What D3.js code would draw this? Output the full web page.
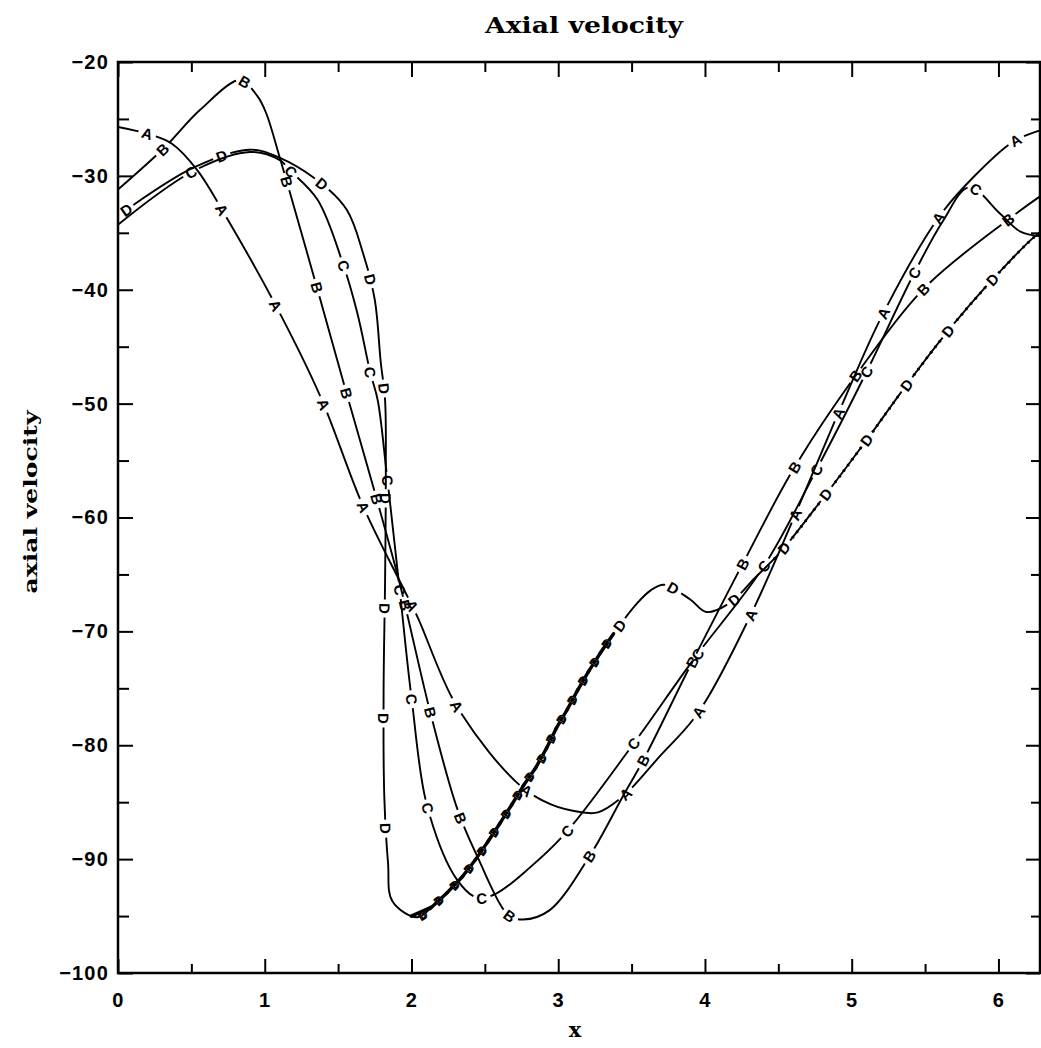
<!DOCTYPE html>
<html>
<head>
<meta charset="utf-8">
<script src="https://cdn.jsdelivr.net/npm/d3@7"></script>
<style>
  html, body { margin: 0; padding: 0; background: #fff; }
  svg { display: block; }
</style>
</head>
<body>
<svg id="chart" width="1041" height="1048"></svg>
<script>
// Axial velocity along x for four cases, A to D.
const seriesNames = ["A", "B", "C", "D"];

const xA = [0, 0.2, 0.37, 0.54, 0.71, 1.08, 1.38, 1.67, 1.94, 2.04, 2.31, 2.72, 2.95, 3.17, 3.27, 3.44, 3.69, 3.95, 4.31, 4.91, 5.21, 5.59, 5.83, 6.1, 6.283];
const yA = [-25.7, -26.3, -27.2, -29.5, -33.0, -41.5, -49.4, -59.0, -66.1, -68.7, -76.6, -83.3, -85.2, -85.9, -85.9, -84.5, -81.0, -77.2, -68.6, -50.8, -42.2, -33.7, -30.1, -27.0, -26.0];

const xB = [0, 0.31, 0.56, 0.83, 0.95, 1.01, 1.1, 1.15, 1.36, 1.56, 1.77, 1.92, 2.13, 2.31, 2.45, 2.66, 2.76, 2.94, 3.22, 3.44, 3.58, 3.92, 4.26, 4.61, 5.04, 5.5, 6.08, 6.283];
const yB = [-31.2, -27.6, -24.2, -21.6, -23.0, -24.5, -28.3, -30.5, -40.0, -49.2, -58.7, -65.8, -77.2, -85.5, -89.8, -94.9, -95.3, -94.5, -89.6, -84.5, -81.3, -72.5, -64.0, -55.6, -47.3, -39.8, -33.7, -31.8];

const xC = [0, 0.51, 0.9, 1.1, 1.17, 1.36, 1.53, 1.63, 1.72, 1.77, 1.83, 1.92, 2.0, 2.11, 2.31, 2.45, 2.58, 2.81, 3.05, 3.5, 3.92, 4.4, 4.76, 5.09, 5.42, 5.62, 5.8, 6.01, 6.15, 6.283];
const yC = [-34.3, -29.6, -27.9, -28.6, -29.5, -32.1, -37.6, -42.0, -47.3, -49.7, -56.0, -66.4, -75.8, -85.5, -91.8, -93.4, -93.0, -90.7, -87.7, -80.1, -72.5, -64.3, -55.8, -47.5, -38.7, -34.0, -31.0, -33.3, -34.9, -35.3];

const xD = [0, 0.51, 0.9, 1.1, 1.38, 1.56, 1.67, 1.75, 1.79, 1.82, 1.825, 1.82, 1.81, 1.815, 1.84, 1.87, 2.04, 2.17, 2.33, 2.45, 2.56, 2.67, 2.76, 2.88, 2.97, 3.06, 3.17, 3.35, 3.54, 3.63, 3.72, 3.9, 4.01, 4.17, 4.34, 4.51, 4.81, 5.09, 5.36, 5.62, 5.91, 6.24, 6.283];
const yD = [-33.5, -29.3, -27.7, -28.4, -30.6, -33.0, -36.8, -40.9, -46.3, -49.7, -56.0, -65.6, -75.1, -84.6, -90.3, -93.7, -95.1, -93.8, -91.8, -89.8, -87.7, -85.5, -83.6, -81.3, -78.9, -76.9, -74.3, -70.7, -67.5, -66.4, -65.9, -67.2, -68.3, -67.5, -65.3, -63.1, -58.2, -53.4, -48.6, -44.2, -39.8, -35.4, -35.0];

const seriesX = { A: xA, B: xB, C: xC, D: xD };
const seriesY = { A: yA, B: yB, C: yC, D: yD };

const xMajorTicks = [0, 1, 2, 3, 4, 5, 6];
const xMinorTicks = [0.5, 1.5, 2.5, 3.5, 4.5, 5.5];
const yMajorTicks = [-100, -90, -80, -70, -60, -50, -40, -30, -20];
const yMinorTicks = [-95, -85, -75, -65, -55, -45, -35, -25];

const titleText = "Axial velocity";
const xLabelText = "x";
const yLabelText = "axial velocity";

// ---- layout ----
const W = 1041, H = 1048;
const plot = { left: 118, right: 1040, top: 62, bottom: 973 };

const svg = d3.select("#chart");
svg.append("rect").attr("width", W).attr("height", H).attr("fill", "#fff");

const x = d3.scaleLinear().domain([0, 2 * Math.PI]).range([plot.left, plot.right]);
const y = d3.scaleLinear().domain([-100, -20]).range([plot.bottom, plot.top]);

const tickFont = "'Liberation Sans', Arial, sans-serif";
const serifFont = "'DejaVu Serif', 'Liberation Serif', serif";

// ---- axes: ticks point inward on all four sides ----
function styleAxis(g) {
  g.select(".domain").remove();
  g.selectAll(".tick line").attr("stroke", "#000").attr("stroke-width", 2);
  g.selectAll(".tick text")
    .attr("fill", "#000")
    .attr("font-family", tickFont)
    .attr("font-weight", "bold")
    .attr("font-size", 20)
    .attr("letter-spacing", "1.2px");
}
const fmt = d3.format("d");

svg.append("g").attr("transform", `translate(0,${plot.bottom})`)
  .call(d3.axisBottom(x).tickValues(xMajorTicks).tickFormat(fmt).tickSizeInner(-14).tickSizeOuter(0).tickPadding(20))
  .call(styleAxis);
svg.append("g").attr("transform", `translate(0,${plot.bottom})`)
  .call(d3.axisBottom(x).tickValues(xMinorTicks).tickFormat("").tickSizeInner(-9).tickSizeOuter(0))
  .call(styleAxis);
svg.append("g").attr("transform", `translate(0,${plot.top})`)
  .call(d3.axisTop(x).tickValues(xMajorTicks).tickFormat("").tickSizeInner(-15).tickSizeOuter(0))
  .call(styleAxis);
svg.append("g").attr("transform", `translate(0,${plot.top})`)
  .call(d3.axisTop(x).tickValues(xMinorTicks).tickFormat("").tickSizeInner(-10).tickSizeOuter(0))
  .call(styleAxis);

svg.append("g").attr("transform", `translate(${plot.left},0)`)
  .call(d3.axisLeft(y).tickValues(yMajorTicks).tickFormat(fmt).tickSizeInner(-15).tickSizeOuter(0).tickPadding(9))
  .call(styleAxis);
svg.append("g").attr("transform", `translate(${plot.left},0)`)
  .call(d3.axisLeft(y).tickValues(yMinorTicks).tickFormat("").tickSizeInner(-11).tickSizeOuter(0))
  .call(styleAxis);
svg.append("g").attr("transform", `translate(${plot.right},0)`)
  .call(d3.axisRight(y).tickValues(yMajorTicks).tickFormat("").tickSizeInner(-14).tickSizeOuter(0))
  .call(styleAxis);
svg.append("g").attr("transform", `translate(${plot.right},0)`)
  .call(d3.axisRight(y).tickValues(yMinorTicks).tickFormat("").tickSizeInner(-9).tickSizeOuter(0))
  .call(styleAxis);

// frame
svg.append("rect")
  .attr("x", plot.left).attr("y", plot.top)
  .attr("width", plot.right - plot.left).attr("height", plot.bottom - plot.top)
  .attr("fill", "none").attr("stroke", "#000").attr("stroke-width", 2.5);

// ---- titles ----
svg.append("text")
  .attr("x", (plot.left + plot.right) / 2 + 5).attr("y", 33)
  .attr("text-anchor", "middle")
  .attr("font-family", serifFont).attr("font-weight", "bold").attr("font-size", 22)
  .attr("textLength", 198).attr("lengthAdjust", "spacingAndGlyphs")
  .text(titleText);

svg.append("text")
  .attr("x", 575).attr("y", 1037)
  .attr("text-anchor", "middle")
  .attr("font-family", serifFont).attr("font-weight", "bold").attr("font-size", 21)
  .text(xLabelText);

svg.append("text")
  .attr("transform", "translate(37,502) rotate(-90)")
  .attr("text-anchor", "middle")
  .attr("font-family", serifFont).attr("font-weight", "bold").attr("font-size", 18)
  .attr("textLength", 183).attr("lengthAdjust", "spacingAndGlyphs")
  .text(yLabelText);

// ---- curves with letters set into the line ----
const line = d3.line()
  .x(d => x(d[0]))
  .y(d => y(d[1]))
  .curve(d3.curveCatmullRom.alpha(0.5));

// letter spacing along the arc length of each curve
const labelStyle = {
  A: { start: 30, zones: [{ x0: -1, x1: 9, step: 110 }] },
  B: { start: 60, zones: [{ x0: -1, x1: 9, step: 110 }] },
  C: { start: 90, zones: [{ x0: -1, x1: 9, step: 110 }] },
  D: { start: 10, zones: [
        { x0: -1, x1: 2.0, step: 110 },
        { x0: 2.0, x1: 3.4, step: 22, dense: true },
        { x0: 3.4, x1: 4.45, step: 72 },
        { x0: 4.45, x1: 9, step: 68, beaded: true }
      ] }
};

const curvesG = svg.append("g");
const clipId = "plotClip";
svg.append("clipPath").attr("id", clipId).append("rect")
  .attr("x", plot.left).attr("y", plot.top - 5)
  .attr("width", plot.right - plot.left + 1).attr("height", plot.bottom - plot.top + 10);
curvesG.attr("clip-path", `url(#${clipId})`);

const gap = 18;

seriesNames.forEach(name => {
  const pts = seriesX[name].map((v, i) => [v, seriesY[name][i]]);
  const g = curvesG.append("g");
  const path = g.append("path")
    .attr("d", line(pts))
    .attr("fill", "none")
    .attr("stroke", "#000")
    .attr("stroke-width", 1.9)
    .attr("stroke-linejoin", "round");
  const node = path.node();
  const L = node.getTotalLength();
  const st = labelStyle[name];

  const zoneAt = s => {
    const px = x.invert(node.getPointAtLength(s).x);
    return st.zones.find(z => px >= z.x0 && px < z.x1) || st.zones[st.zones.length - 1];
  };

  const labels = [];
  let s = st.start;
  while (s < L - 6) {
    const z = zoneAt(s);
    labels.push({ s, dense: !!z.dense });
    s += z.step;
  }
  const plain = labels.filter(l => !l.dense);

  // break the line where a regular letter sits
  const dash = [];
  let prev = 0;
  plain.forEach(l => {
    const a = Math.max(prev, l.s - gap / 2);
    dash.push(a - prev, gap);
    prev = a + gap;
  });
  dash.push(Math.max(L - prev, 0) + 5, 0);
  path.attr("stroke-dasharray", dash.join(","));

  // heavier trace where the letters crowd together
  labels.filter(l => l.dense).forEach(l => {
    const p0 = node.getPointAtLength(Math.max(0, l.s - 12));
    const p1 = node.getPointAtLength(Math.min(L, l.s + 12));
    g.append("line")
      .attr("x1", p0.x).attr("y1", p0.y).attr("x2", p1.x).attr("y2", p1.y)
      .attr("stroke", "#000").attr("stroke-width", 3.4).attr("stroke-linecap", "round");
  });

  // small beads along the trace in the beaded stretch
  for (let t = 0; t < L; t += 7) {
    const z = zoneAt(t);
    if (!z.beaded) continue;
    if (plain.some(l => Math.abs(l.s - t) < gap / 2 + 1)) continue;
    const p = node.getPointAtLength(t);
    g.append("circle").attr("cx", p.x).attr("cy", p.y).attr("r", 1.5).attr("fill", "#000");
  }

  labels.forEach(l => {
    const p = node.getPointAtLength(l.s);
    const pa = node.getPointAtLength(Math.max(0, l.s - 2));
    const pb = node.getPointAtLength(Math.min(L, l.s + 2));
    const ang = Math.atan2(pb.y - pa.y, pb.x - pa.x) * 180 / Math.PI;
    g.append("text")
      .attr("transform", `translate(${p.x},${p.y}) rotate(${ang})`)
      .attr("text-anchor", "middle")
      .attr("dominant-baseline", "central")
      .attr("font-family", tickFont)
      .attr("font-weight", "bold")
      .attr("font-size", l.dense ? 11 : 15)
      .attr("fill", l.dense ? "#fff" : "#000")
      .attr("stroke", l.dense ? "#000" : "none")
      .attr("stroke-width", l.dense ? 1.3 : 0)
      .text(name);
  });
});
</script>
</body>
</html>
